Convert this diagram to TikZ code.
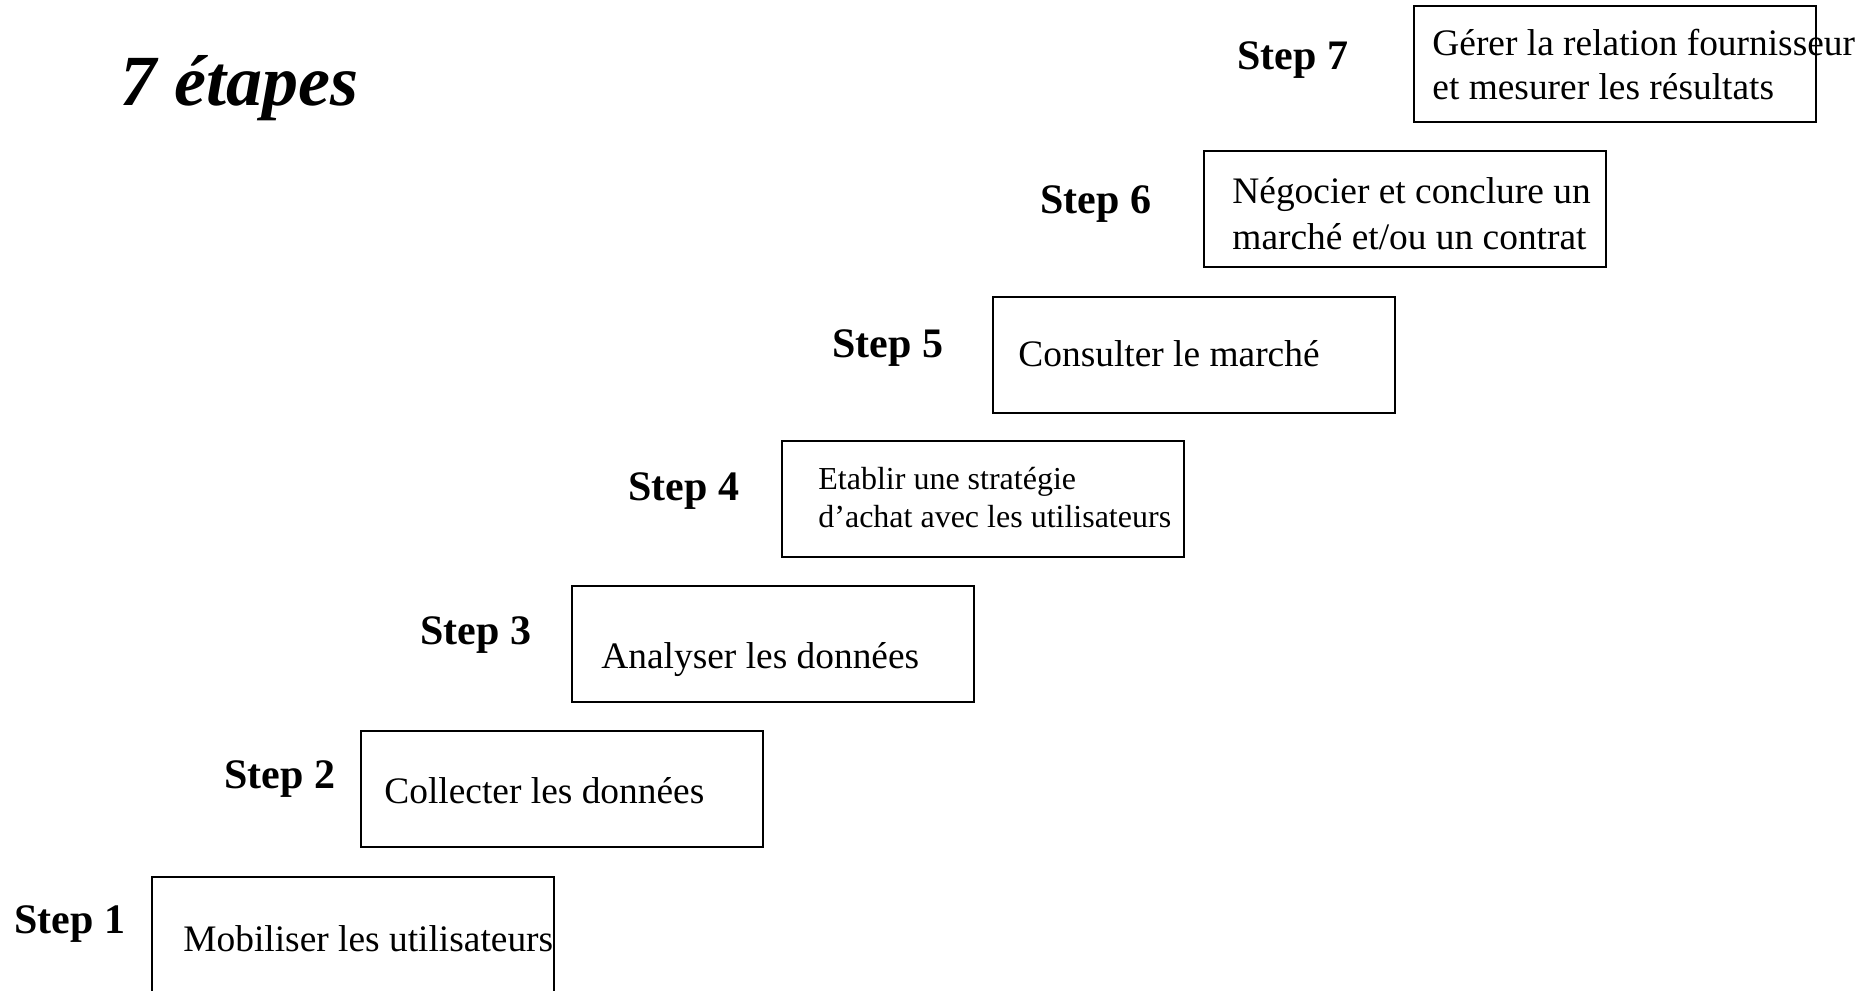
\documentclass[tikz,border=0pt]{standalone}
\usepackage{fontspec}
\setmainfont{Liberation Serif}
\begin{document}
\begin{tikzpicture}[x=0.5pt,y=-0.5pt,
  box/.style={draw=black,line width=1.1pt,anchor=north west,inner sep=0pt,outer sep=0pt,
    minimum width=201pt,minimum height=58pt},
  steplabel/.style={anchor=base west,inner sep=0pt,font=\fontsize{21}{25}\selectfont\bfseries},
  boxtext/.style={anchor=base west,inner sep=0pt,font=\fontsize{18.7}{21.5}\selectfont},
  smalltext/.style={anchor=base west,inner sep=0pt,font=\fontsize{16}{18.5}\selectfont}]
\useasboundingbox (0,0) rectangle (1876,991);
\node[anchor=base west,inner sep=0pt,font=\fontsize{36}{40}\selectfont\bfseries\itshape] (title) at (120,105) {7 étapes};
% boxes
\node[box,minimum height=70pt] (b1) at (152,877) {};
\node[box] (b2) at (361,731) {};
\node[box] (b3) at (572,586) {};
\node[box] (b4) at (782,441) {};
\node[box] (b5) at (993,297) {};
\node[box] (b6) at (1204,151) {};
\node[box] (b7) at (1414,6) {};
% step labels
\node[steplabel] (s1) at (14,933) {Step 1};
\node[steplabel] (s2) at (224,788) {Step 2};
\node[steplabel] (s3) at (420,644) {Step 3};
\node[steplabel] (s4) at (628,500) {Step 4};
\node[steplabel] (s5) at (832,357) {Step 5};
\node[steplabel] (s6) at (1040,213) {Step 6};
\node[steplabel] (s7) at (1237,69) {Step 7};
% texts
\node[boxtext] (t1) at (183,951) {Mobiliser les utilisateurs};
\node[boxtext] (t2) at (384,803) {Collecter les données};
\node[boxtext] (t3) at (601,668) {Analyser les données};
\node[smalltext] (t4a) at (818,489) {Etablir une stratégie};
\node[smalltext] (t4b) at (818,527) {d’achat avec les utilisateurs};
\node[boxtext] (t5) at (1018,366) {Consulter le marché};
\node[boxtext] (t6a) at (1232,203) {Négocier et conclure un};
\node[boxtext] (t6b) at (1232,249) {marché et/ou un contrat};
\node[boxtext] (t7a) at (1432,55) {Gérer la relation fournisseur};
\node[boxtext] (t7b) at (1432,99) {et mesurer les résultats};
\end{tikzpicture}
\end{document}
